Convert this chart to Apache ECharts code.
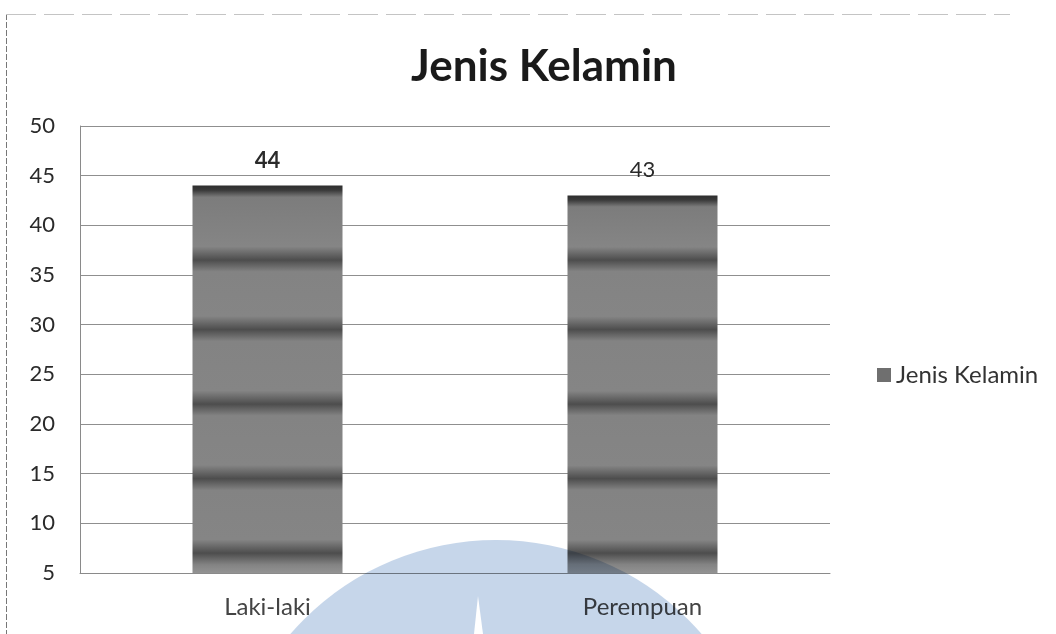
<!DOCTYPE html>
<html>
<head>
<meta charset="utf-8">
<script src="https://cdn.jsdelivr.net/npm/echarts@6/dist/echarts.min.js"></script>
<style>
  html, body { margin: 0; padding: 0; background: #ffffff; }
  #chart { width: 1056px; height: 634px; }
</style>
</head>
<body>
<div id="chart"></div>
<script>
// Respondent counts by gender
const categories = ['Laki-laki', 'Perempuan'];
const counts = [44, 43];
const seriesName = 'Jenis Kelamin';
const yMin = 5, yMax = 50, yStep = 5;
// darker horizontal streaks running across the bars (axis values)
const streaks = [36.5, 29.5, 22, 14.5, 7];

function barFill(top) {
  const span = top - yMin;
  const stops = [
    { offset: 0, color: '#2e2e2e' },
    { offset: 0.012, color: '#3a3a3a' },
    { offset: 0.03, color: '#7c7c7c' }
  ];
  streaks.forEach(v => {
    const o = (top - v) / span;
    stops.push({ offset: Math.max(0, o - 0.035), color: '#858585' });
    stops.push({ offset: o, color: '#4d4d4d' });
    stops.push({ offset: Math.min(1, o + 0.03), color: '#838383' });
  });
  stops.push({ offset: 1, color: '#939393' });
  stops.sort((a, b) => a.offset - b.offset);
  return new echarts.graphic.LinearGradient(0, 0, 0, 1, stops);
}

const labelFont = 'Lato, "Open Sans", sans-serif';

const chart = echarts.init(document.getElementById('chart'), null, { renderer: 'canvas' });
chart.setOption({
  backgroundColor: '#ffffff',
  animation: false,
  title: {
    text: seriesName,
    left: 539,
    textAlign: 'center',
    top: 40,
    textStyle: { fontFamily: labelFont, fontWeight: 'bold', fontSize: 44, color: '#1a1a1a' }
  },
  legend: {
    data: [seriesName],
    left: 872,
    top: 358,
    itemWidth: 14,
    itemHeight: 14,
    itemGap: 6,
    icon: 'rect',
    textStyle: { fontFamily: labelFont, fontSize: 24, color: '#333333' }
  },
  grid: { left: 80, right: 226, top: 126, bottom: 61, containLabel: false },
  xAxis: {
    type: 'category',
    data: categories,
    axisLine: { show: true, lineStyle: { color: '#8a8a8a', width: 1 } },
    axisTick: { show: false },
    axisLabel: { fontFamily: labelFont, fontSize: 24, color: '#444444', margin: 22 }
  },
  yAxis: {
    type: 'value',
    min: yMin,
    max: yMax,
    interval: yStep,
    axisLine: { show: true, lineStyle: { color: '#8a8a8a', width: 1 } },
    axisTick: { show: false },
    axisLabel: { fontFamily: labelFont, fontSize: 22, color: '#2a2a2a', margin: 25 },
    splitLine: { lineStyle: { color: '#8f8f8f', width: 1 } }
  },
  series: [{
    name: seriesName,
    type: 'bar',
    barWidth: '40%',
    itemStyle: { color: '#6f6f6f' },
    data: counts.map((v, i) => ({
      value: v,
      itemStyle: { color: barFill(v) },
      label: {
        show: true,
        position: 'top',
        distance: i === 0 ? 14 : 15,
        fontFamily: labelFont,
        fontSize: 22,
        fontWeight: i === 0 ? 'bold' : 'normal',
        color: '#2a2a2a'
      }
    }))
  }],
  graphic: [
    // page frame
    { type: 'line', z: 100, shape: { x1: 6.5, y1: 14, x2: 6.5, y2: 634 },
      style: { stroke: '#777777', lineWidth: 1, lineDash: [6, 2] } },
    { type: 'line', z: 100, shape: { x1: 6, y1: 14.5, x2: 1010, y2: 14.5 },
      style: { stroke: '#c4c4c4', lineWidth: 1, lineDash: [30, 8] } },
    // stamp at the foot of the page
    { type: 'circle', z: 200, shape: { cx: 496, cy: 812, r: 272 },
      style: { fill: '#c6d6ea', blend: 'multiply' } },
    { type: 'polygon', z: 201, shape: { points: [[478, 596], [474, 634], [483, 634]] },
      style: { fill: '#ffffff' } }
  ]
});
</script>
</body>
</html>
